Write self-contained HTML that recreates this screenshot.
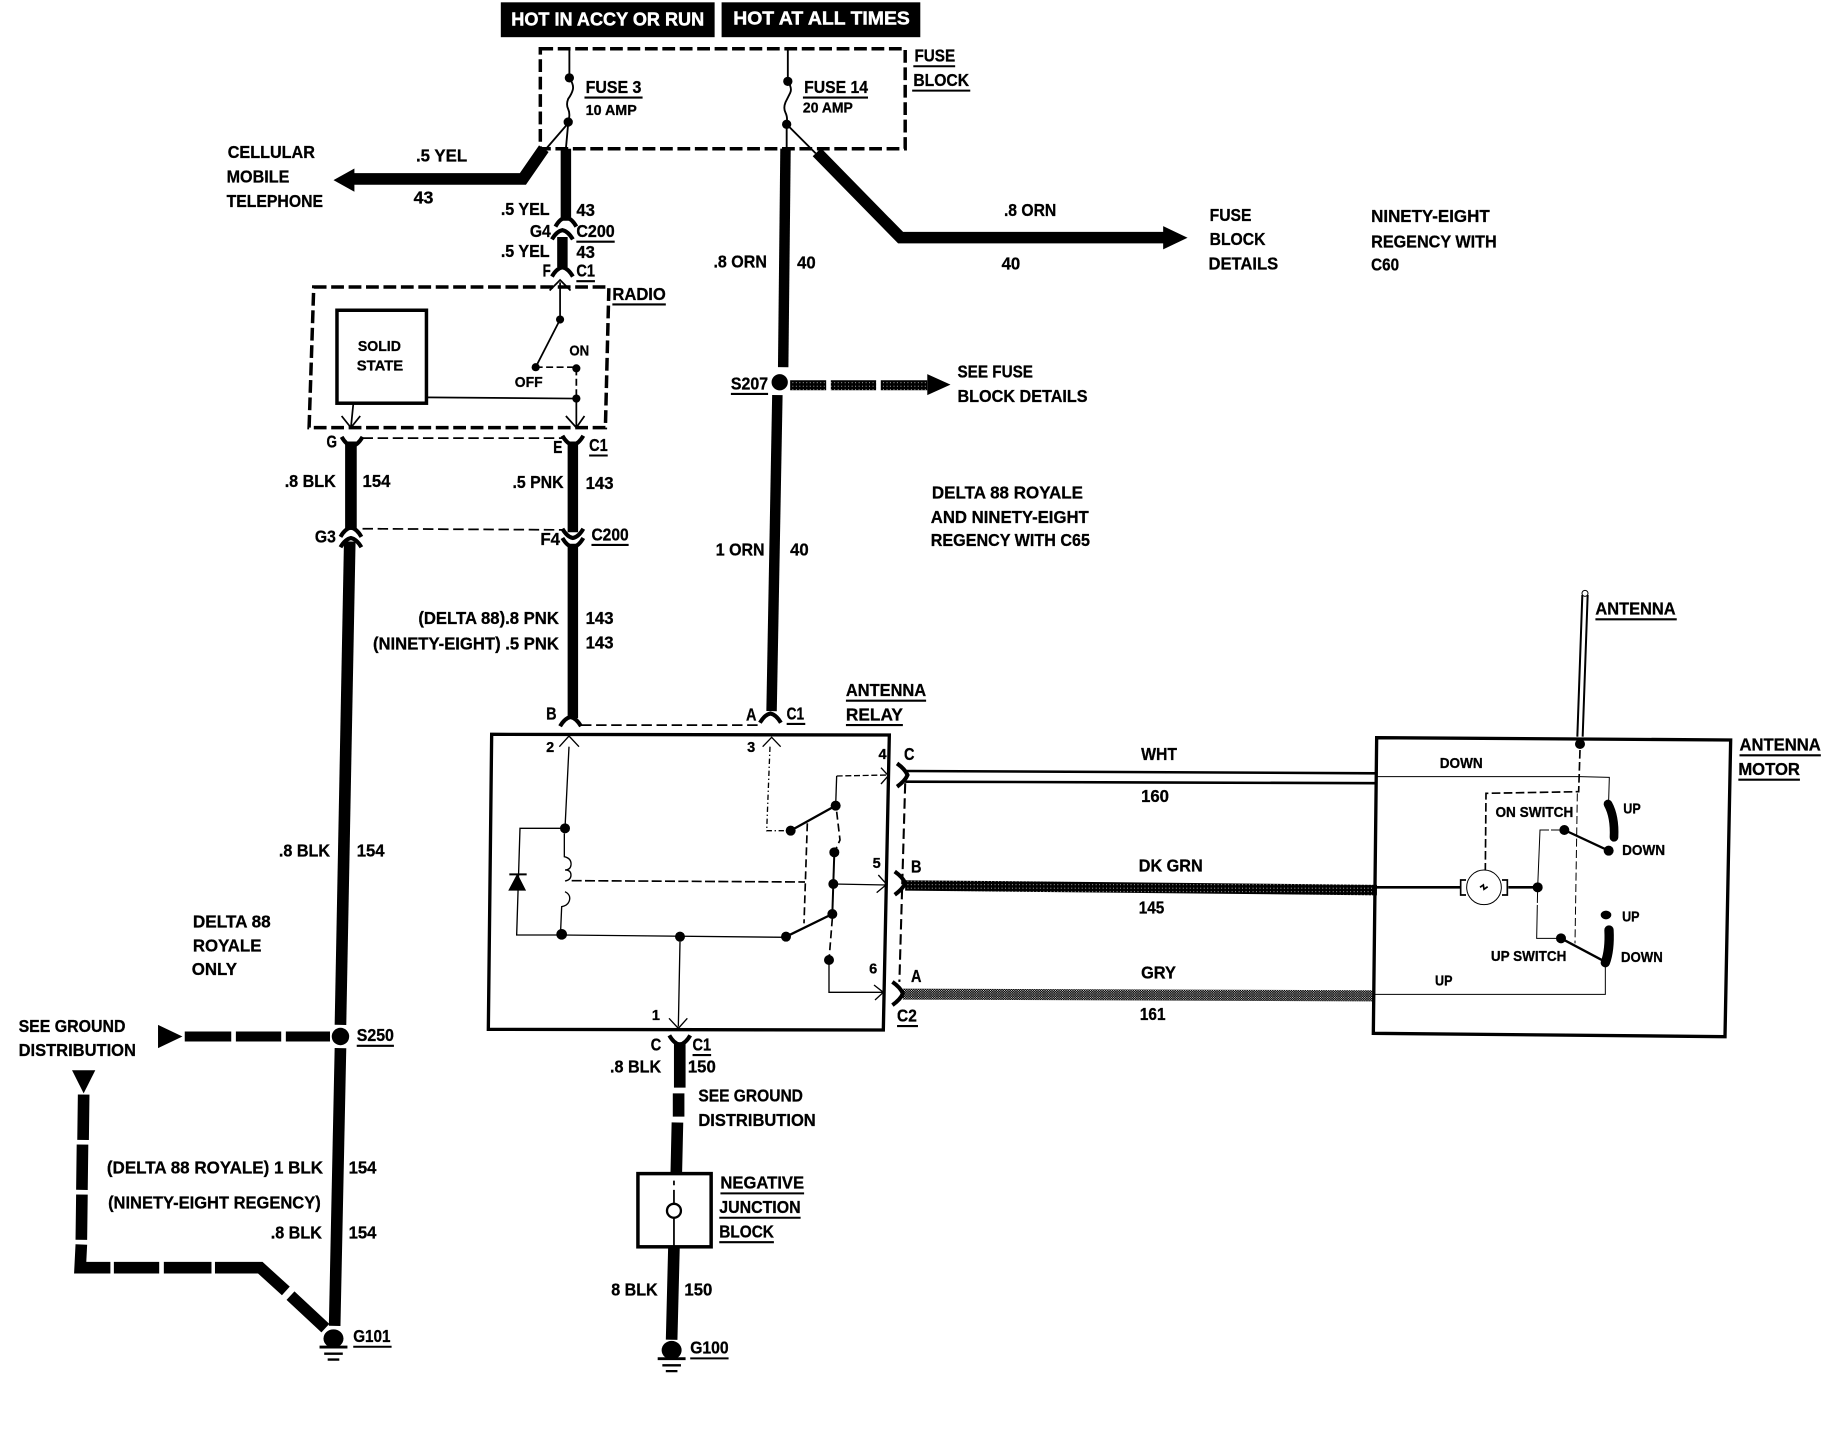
<!DOCTYPE html>
<html>
<head>
<meta charset="utf-8">
<title>Antenna wiring diagram</title>
<style>
html,body{margin:0;padding:0;background:#fff;width:1822px;height:1440px;overflow:hidden}
svg{display:block}
text{font-family:"Liberation Sans",sans-serif;font-weight:700;font-size:15px;fill:#000;stroke:#000;stroke-width:.25}
.s{font-size:12.5px}
.w{fill:#fff;stroke:#fff;stroke-width:.4;font-size:16px}
</style>
</head>
<body>
<svg xmlns="http://www.w3.org/2000/svg" width="1822" height="1440" viewBox="0 0 1822 1440">
<defs>
<path id="cd" d="M-9 7Q-5 0 0-1Q5 0 9 7" fill="none" stroke="#000" stroke-width="3.5"/>
<path id="cu" d="M-9-7Q-5 0 0 1Q5 0 9-7" fill="none" stroke="#000" stroke-width="3.5"/>
<path id="cl" d="M-7-10Q0-5 2 0Q0 5-7 10" fill="none" stroke="#000" stroke-width="3.5"/>
<g id="gnd"><ellipse rx="8.6" ry="8" fill="#000"/><path d="M-12 6h24v2.5h-24zM-8 12h16v2h-16zM-5 17h10v2h-10z" fill="#000"/></g>
<pattern id="dk" width="3" height="3" patternUnits="userSpaceOnUse"><rect width="3" height="3" fill="#000"/><rect x="1" y="2" width=".7" height=".7" fill="#fff"/></pattern>
<pattern id="gy" width="2" height="2" patternUnits="userSpaceOnUse"><rect width="2" height="2" fill="#000"/><rect width=".75" height=".75" fill="#fff"/><rect x="1" y="1" width=".75" height=".75" fill="#fff"/></pattern>
</defs>
<rect width="1822" height="1440" fill="#fff"/>
<g transform="scale(1.16199)">
<!-- header -->
<rect x="431" y="2" width="184" height="30" fill="#000"/>
<rect x="621" y="2" width="171" height="30" fill="#000"/>
<text class="w" x="440" y="22" textLength="166" lengthAdjust="spacingAndGlyphs">HOT IN ACCY OR RUN</text>
<text class="w" x="631" y="21" textLength="152" lengthAdjust="spacingAndGlyphs">HOT AT ALL TIMES</text>
<!-- fuse block -->
<rect x="465" y="42" width="314" height="86" fill="none" stroke="#000" stroke-width="3" stroke-dasharray="11 4"/>
<g fill="none" stroke="#000" stroke-width="1.6">
<path d="M490 42V67q4 6 3 10t-4 8q-2 5 0 9t0 12M489 106L470 128M489 106L487 128"/>
<path d="M678 42V70q4 6 2 10t-4 8q-2 5 0 9t1 10V128M677 107L702 132"/>
</g>
<g fill="#000"><circle cx="490" cy="67" r="4"/><circle cx="489" cy="105" r="4"/><circle cx="678" cy="70" r="4"/><circle cx="677" cy="107" r="4"/></g>
<!-- thick wires -->
<g fill="none" stroke="#000" stroke-width="9">
<path d="M468 128L450 154H300" stroke-width="10"/>
<path d="M487 128V190M484 204V230"/>
<path d="M676 128L674 316"/>
<path d="M703 131L775 204.5H1003" stroke-width="10"/>
<path d="M669 340L664 612"/>
<path d="M302 380V456" stroke-width="10"/>
<path d="M301 466L293 882" stroke-width="10"/>
<path d="M293 902L288 1141" stroke-width="10"/>
<path d="M493 380V458M493 468V618"/>
<path d="M585 897V936M584 941V961M583 966L582 1010" stroke-width="10"/>
<path d="M580 1073L578 1153" stroke-width="10"/>
<path d="M680 331.5H711M715 331.5H754M758 331.5H798" stroke="url(#dk)" stroke-width="8.6"/>
<path d="M159 892H199M203 892H242M246 892H284" stroke-width="8.6"/>
<path d="M72 942L71.5 981M71 985L70.5 1024M70.5 1028L70 1067M70 1071L69 1091H95M98 1091H137M141 1091H182M185 1091H224L246 1111M250 1115L280 1143" stroke-width="10"/>
<path d="M779 762L1185 766" stroke="url(#dk)"/>
<path d="M777 855.5L1181 857" stroke="url(#gy)" stroke-width="9.5"/>
</g>
<g fill="none" stroke="#000" stroke-width="2.2">
<path d="M779 663.5L1185 665.5M779 672.7L1185 674"/>
</g>
<!-- arrowheads -->
<g fill="#000">
<path d="M287 155L305 145V165Z"/>
<path d="M1022 204.6L1001 194.6V214.6Z"/>
<path d="M818 331L798 322V340Z"/>
<path d="M157 892L136 882V902Z"/>
<path d="M72 941L62 921H82Z"/>
<circle cx="671" cy="329" r="7"/>
<circle cx="293" cy="892" r="7.5"/>
</g>
<!-- radio -->
<path d="M270 247H524L521 368H266Z" fill="none" stroke="#000" stroke-width="3" stroke-dasharray="11 4"/>
<rect x="290" y="267" width="77" height="80" fill="#fff" stroke="#000" stroke-width="3"/>
<g fill="none" stroke="#000" stroke-width="1.5">
<path d="M473 250L482 241L491 250M482 243V275L461 316"/>
<path d="M367 342L496 343V368M487 358L496 368L503 358"/>
<path d="M304 348L302 368M294 358L302 368L310 358"/>
<path d="M461 316H496V343" stroke-dasharray="6 3"/>
<path d="M312 377H486M312 455L485 456M500 624H655" stroke-dasharray="9 4"/>
<path d="M779 674L774 845" stroke-width="1.8" stroke-dasharray="9 4"/>
</g>
<g fill="#000"><circle cx="482" cy="275" r="3.5"/><circle cx="461" cy="316" r="3.5"/><circle cx="496" cy="317" r="3.5"/><circle cx="496" cy="343" r="3.5"/></g>
<!-- connectors -->
<use href="#cd" x="487" y="188"/><use href="#cd" x="484" y="199"/><use href="#cd" x="484" y="231"/>
<use href="#cu" x="303" y="383"/><use href="#cu" x="493" y="382"/>
<use href="#cd" x="302" y="455"/><use href="#cd" x="302" y="464"/><use href="#cu" x="493" y="462"/><use href="#cu" x="493" y="470"/>
<use href="#cd" x="491" y="618"/><use href="#cd" x="663" y="615"/><use href="#cu" x="585" y="898"/>
<use href="#cl" x="779" y="667"/><use href="#cl" x="777" y="760"/><use href="#cl" x="775" y="855"/>
<!-- junction + grounds -->
<rect x="549" y="1010" width="63" height="63" fill="#fff" stroke="#000" stroke-width="3"/>
<path d="M580 1016V1020M580 1024V1036M580 1048V1073" stroke="#000" stroke-width="1.5"/>
<circle cx="580" cy="1042" r="6" fill="#fff" stroke="#000" stroke-width="2"/>
<use href="#gnd" x="287" y="1152"/><use href="#gnd" x="578" y="1162"/>
<!-- labels -->
<g>
<text x="504" y="80" textLength="48" lengthAdjust="spacingAndGlyphs">FUSE 3</text>
<text class="s" x="504" y="99" textLength="44" lengthAdjust="spacingAndGlyphs">10 AMP</text>
<text x="692" y="80" textLength="55" lengthAdjust="spacingAndGlyphs">FUSE 14</text>
<text class="s" x="691" y="97" textLength="43" lengthAdjust="spacingAndGlyphs">20 AMP</text>
<text x="787" y="53" textLength="35" lengthAdjust="spacingAndGlyphs">FUSE</text>
<text x="786" y="74" textLength="48" lengthAdjust="spacingAndGlyphs">BLOCK</text>
<text x="196" y="136" textLength="75" lengthAdjust="spacingAndGlyphs">CELLULAR</text>
<text x="195" y="157" textLength="54" lengthAdjust="spacingAndGlyphs">MOBILE</text>
<text x="195" y="178" textLength="83" lengthAdjust="spacingAndGlyphs">TELEPHONE</text>
<text x="358" y="139" textLength="44" lengthAdjust="spacingAndGlyphs">.5 YEL</text>
<text x="356" y="175" textLength="17" lengthAdjust="spacingAndGlyphs">43</text>
<text x="431" y="185" textLength="42" lengthAdjust="spacingAndGlyphs">.5 YEL</text>
<text x="496" y="186" textLength="16" lengthAdjust="spacingAndGlyphs">43</text>
<text x="456" y="204" textLength="18" lengthAdjust="spacingAndGlyphs">G4</text>
<text x="496" y="204" textLength="33" lengthAdjust="spacingAndGlyphs">C200</text>
<text x="431" y="221" textLength="42" lengthAdjust="spacingAndGlyphs">.5 YEL</text>
<text x="496" y="222" textLength="16" lengthAdjust="spacingAndGlyphs">43</text>
<text x="467" y="238" textLength="7" lengthAdjust="spacingAndGlyphs">F</text>
<text x="496" y="238" textLength="16" lengthAdjust="spacingAndGlyphs">C1</text>
<text x="527" y="258" textLength="46" lengthAdjust="spacingAndGlyphs">RADIO</text>
<text x="864" y="186" textLength="45" lengthAdjust="spacingAndGlyphs">.8 ORN</text>
<text x="862" y="232" textLength="16" lengthAdjust="spacingAndGlyphs">40</text>
<text x="1041" y="190" textLength="36" lengthAdjust="spacingAndGlyphs">FUSE</text>
<text x="1041" y="211" textLength="48" lengthAdjust="spacingAndGlyphs">BLOCK</text>
<text x="1040" y="232" textLength="60" lengthAdjust="spacingAndGlyphs">DETAILS</text>
<text x="1180" y="191" textLength="102" lengthAdjust="spacingAndGlyphs">NINETY-EIGHT</text>
<text x="1180" y="213" textLength="108" lengthAdjust="spacingAndGlyphs">REGENCY WITH</text>
<text x="1180" y="233" textLength="24" lengthAdjust="spacingAndGlyphs">C60</text>
<text x="614" y="230" textLength="46" lengthAdjust="spacingAndGlyphs">.8 ORN</text>
<text x="686" y="231" textLength="16" lengthAdjust="spacingAndGlyphs">40</text>
<text x="629" y="335" textLength="32" lengthAdjust="spacingAndGlyphs">S207</text>
<text x="824" y="325" textLength="65" lengthAdjust="spacingAndGlyphs">SEE FUSE</text>
<text x="824" y="346" textLength="112" lengthAdjust="spacingAndGlyphs">BLOCK DETAILS</text>
<text class="s" x="308" y="302" textLength="37" lengthAdjust="spacingAndGlyphs">SOLID</text>
<text class="s" x="307" y="319" textLength="40" lengthAdjust="spacingAndGlyphs">STATE</text>
<text class="s" x="490" y="306" textLength="17" lengthAdjust="spacingAndGlyphs">ON</text>
<text class="s" x="443" y="333" textLength="24" lengthAdjust="spacingAndGlyphs">OFF</text>
<text x="281" y="385" textLength="9" lengthAdjust="spacingAndGlyphs">G</text>
<text x="476" y="390" textLength="8" lengthAdjust="spacingAndGlyphs">E</text>
<text x="507" y="388" textLength="16" lengthAdjust="spacingAndGlyphs">C1</text>
<text x="245" y="419" textLength="44" lengthAdjust="spacingAndGlyphs">.8 BLK</text>
<text x="312" y="419" textLength="24" lengthAdjust="spacingAndGlyphs">154</text>
<text x="441" y="420" textLength="44" lengthAdjust="spacingAndGlyphs">.5 PNK</text>
<text x="504" y="421" textLength="24" lengthAdjust="spacingAndGlyphs">143</text>
<text x="271" y="467" textLength="18" lengthAdjust="spacingAndGlyphs">G3</text>
<text x="465" y="469" textLength="17" lengthAdjust="spacingAndGlyphs">F4</text>
<text x="509" y="465" textLength="32" lengthAdjust="spacingAndGlyphs">C200</text>
<text x="802" y="429" textLength="130" lengthAdjust="spacingAndGlyphs">DELTA 88 ROYALE</text>
<text x="801" y="450" textLength="136" lengthAdjust="spacingAndGlyphs">AND NINETY-EIGHT</text>
<text x="801" y="470" textLength="137" lengthAdjust="spacingAndGlyphs">REGENCY WITH C65</text>
<text x="616" y="478" textLength="42" lengthAdjust="spacingAndGlyphs">1 ORN</text>
<text x="680" y="478" textLength="16" lengthAdjust="spacingAndGlyphs">40</text>
<text x="360" y="537" textLength="121" lengthAdjust="spacingAndGlyphs">(DELTA 88).8 PNK</text>
<text x="504" y="537" textLength="24" lengthAdjust="spacingAndGlyphs">143</text>
<text x="321" y="559" textLength="160" lengthAdjust="spacingAndGlyphs">(NINETY-EIGHT) .5 PNK</text>
<text x="504" y="558" textLength="24" lengthAdjust="spacingAndGlyphs">143</text>
<text x="728" y="599" textLength="69" lengthAdjust="spacingAndGlyphs">ANTENNA</text>
<text x="728" y="620" textLength="49" lengthAdjust="spacingAndGlyphs">RELAY</text>
<text x="470" y="619" textLength="9" lengthAdjust="spacingAndGlyphs">B</text>
<text x="642" y="620" textLength="9" lengthAdjust="spacingAndGlyphs">A</text>
<text x="677" y="619" textLength="15" lengthAdjust="spacingAndGlyphs">C1</text>
<text x="1373" y="529" textLength="69" lengthAdjust="spacingAndGlyphs">ANTENNA</text>
<text x="1497" y="646" textLength="70" lengthAdjust="spacingAndGlyphs">ANTENNA</text>
<text x="1496" y="667" textLength="53" lengthAdjust="spacingAndGlyphs">MOTOR</text>
<text x="982" y="654" textLength="31" lengthAdjust="spacingAndGlyphs">WHT</text>
<text x="982" y="690" textLength="24" lengthAdjust="spacingAndGlyphs">160</text>
<text x="980" y="750" textLength="55" lengthAdjust="spacingAndGlyphs">DK GRN</text>
<text x="980" y="786" textLength="22" lengthAdjust="spacingAndGlyphs">145</text>
<text x="982" y="842" textLength="30" lengthAdjust="spacingAndGlyphs">GRY</text>
<text x="981" y="878" textLength="22" lengthAdjust="spacingAndGlyphs">161</text>
<text x="778" y="654" textLength="9" lengthAdjust="spacingAndGlyphs">C</text>
<text x="784" y="751" textLength="9" lengthAdjust="spacingAndGlyphs">B</text>
<text x="784" y="845" textLength="9" lengthAdjust="spacingAndGlyphs">A</text>
<text x="772" y="879" textLength="17" lengthAdjust="spacingAndGlyphs">C2</text>
<text class="s" x="470" y="647">2</text>
<text class="s" x="643" y="647">3</text>
<text class="s" x="756" y="653">4</text>
<text class="s" x="751" y="747">5</text>
<text class="s" x="748" y="838">6</text>
<text class="s" x="561" y="878">1</text>
<text x="240" y="737" textLength="44" lengthAdjust="spacingAndGlyphs">.8 BLK</text>
<text x="307" y="737" textLength="24" lengthAdjust="spacingAndGlyphs">154</text>
<text x="166" y="798" textLength="67" lengthAdjust="spacingAndGlyphs">DELTA 88</text>
<text x="166" y="819" textLength="59" lengthAdjust="spacingAndGlyphs">ROYALE</text>
<text x="165" y="839" textLength="39" lengthAdjust="spacingAndGlyphs">ONLY</text>
<text x="307" y="896" textLength="32" lengthAdjust="spacingAndGlyphs">S250</text>
<text x="16" y="888" textLength="92" lengthAdjust="spacingAndGlyphs">SEE GROUND</text>
<text x="16" y="909" textLength="101" lengthAdjust="spacingAndGlyphs">DISTRIBUTION</text>
<text x="92" y="1010" textLength="186" lengthAdjust="spacingAndGlyphs">(DELTA 88 ROYALE)  1 BLK</text>
<text x="300" y="1010" textLength="24" lengthAdjust="spacingAndGlyphs">154</text>
<text x="93" y="1040" textLength="183" lengthAdjust="spacingAndGlyphs">(NINETY-EIGHT REGENCY)</text>
<text x="233" y="1066" textLength="44" lengthAdjust="spacingAndGlyphs">.8 BLK</text>
<text x="300" y="1066" textLength="24" lengthAdjust="spacingAndGlyphs">154</text>
<text x="304" y="1155" textLength="32" lengthAdjust="spacingAndGlyphs">G101</text>
<text x="560" y="904" textLength="9" lengthAdjust="spacingAndGlyphs">C</text>
<text x="596" y="904" textLength="16" lengthAdjust="spacingAndGlyphs">C1</text>
<text x="525" y="923" textLength="44" lengthAdjust="spacingAndGlyphs">.8 BLK</text>
<text x="592" y="923" textLength="24" lengthAdjust="spacingAndGlyphs">150</text>
<text x="601" y="948" textLength="90" lengthAdjust="spacingAndGlyphs">SEE GROUND</text>
<text x="601" y="969" textLength="101" lengthAdjust="spacingAndGlyphs">DISTRIBUTION</text>
<text x="620" y="1023" textLength="72" lengthAdjust="spacingAndGlyphs">NEGATIVE</text>
<text x="619" y="1044" textLength="70" lengthAdjust="spacingAndGlyphs">JUNCTION</text>
<text x="619" y="1065" textLength="47" lengthAdjust="spacingAndGlyphs">BLOCK</text>
<text x="526" y="1115" textLength="40" lengthAdjust="spacingAndGlyphs">8 BLK</text>
<text x="589" y="1115" textLength="24" lengthAdjust="spacingAndGlyphs">150</text>
<text x="594" y="1165" textLength="33" lengthAdjust="spacingAndGlyphs">G100</text>
<text class="s" x="1239" y="661" textLength="37" lengthAdjust="spacingAndGlyphs">DOWN</text>
<text class="s" x="1287" y="703" textLength="67" lengthAdjust="spacingAndGlyphs">ON SWITCH</text>
<text class="s" x="1397" y="700" textLength="15" lengthAdjust="spacingAndGlyphs">UP</text>
<text class="s" x="1396" y="736" textLength="37" lengthAdjust="spacingAndGlyphs">DOWN</text>
<text class="s" x="1396" y="793" textLength="15" lengthAdjust="spacingAndGlyphs">UP</text>
<text class="s" x="1283" y="827" textLength="65" lengthAdjust="spacingAndGlyphs">UP SWITCH</text>
<text class="s" x="1395" y="828" textLength="36" lengthAdjust="spacingAndGlyphs">DOWN</text>
<text class="s" x="1235" y="848" textLength="15" lengthAdjust="spacingAndGlyphs">UP</text>
</g>
<!-- underlines -->
<path fill="none" stroke="#000" stroke-width="1.8" d="M503 84h50M691 84h56M786 57h36M785 78h50M496 208h33M496 242h16M527 262h46M629 339h32M507 392h16M509 469h32M728 603h69M728 624h49M677 623h16M1373 533h70M1497 650h70M1496 671h53M772 883h18M307 900h32M304 1159h33M596 908h16M620 1027h72M619 1048h70M619 1069h47M594 1169h33"/>
</g>
<!-- relay internals, crop coordinates -->
<g transform="translate(470 700) scale(.33333)" fill="none" stroke="#000" stroke-width="4">
<path d="M65 103L1258 105L1240 990L55 988Z" stroke-width="10"/>
<path d="M268 140L297 108L327 140M297 140L285 385M285 385H150L140 705H275"/>
<path d="M283 400V470q22 5 20 25q-2 15-18 15q18 0 18 15q0 15-18 18M285 575q20 10 12 30q-5 12-22 15L272 690"/>
<path d="M118 523H170" stroke-width="6"/>
<path d="M118 570H165L142 525Z" fill="#000"/>
<path d="M305 542L1005 546" stroke-width="5" stroke-dasharray="30 10"/>
<path d="M275 705L950 712M630 725L625 980M597 955L625 985L652 955"/>
<path d="M948 710L1087 642M962 392L1097 317" stroke-width="7"/>
<path d="M1087 642L1093 457" stroke-width="6"/>
<path d="M1090 552L1250 555M1225 525L1250 553L1220 578"/>
<path d="M1087 655L1077 780M1100 335L1110 420L1093 457M1012 370L1002 670" stroke-width="5" stroke-dasharray="24 12"/>
<path d="M1077 780V877H1240M1212 855L1240 877L1215 900"/>
<path d="M878 140L905 112L932 140"/>
<path d="M900 140L890 392H962" stroke-dasharray="16 8 4 8"/>
<path d="M1097 317L1100 228"/>
<path d="M1100 228L1255 225" stroke-dasharray="18 8"/>
<path d="M1233 203L1255 227L1233 252"/>
<g fill="#000" stroke="none">
<circle cx="285" cy="385" r="15"/><circle cx="275" cy="703" r="16"/><circle cx="630" cy="710" r="15"/>
<circle cx="948" cy="710" r="15"/><circle cx="1087" cy="642" r="15"/><circle cx="1090" cy="552" r="15"/>
<circle cx="1093" cy="457" r="15"/><circle cx="1097" cy="317" r="15"/><circle cx="962" cy="392" r="15"/><circle cx="1077" cy="780" r="15"/>
</g>
</g>
<!-- motor internals, crop coordinates -->
<g transform="translate(1340 580) scale(.33333)" fill="none" stroke="#000" stroke-width="3">
<path d="M110 473L1172 480L1155 1370L100 1360Z" stroke-width="10"/>
<path d="M727 45L712 470M743 45L728 470" stroke-width="6"/>
<circle cx="735" cy="40" r="9" fill="#fff"/>
<path d="M720 510L716 635L438 640L436 870" stroke-width="5" stroke-dasharray="26 10"/>
<path d="M110 590H720L808 592L806 660"/>
<path d="M804 672Q825 710 822 772" stroke-width="26" stroke-linecap="round"/>
<path d="M673 750L806 812" stroke-width="7"/>
<path d="M673 750H600L593 922L590 1075H663" stroke-dasharray="40 6 200 6"/>
<path d="M663 1075L795 1145" stroke-width="7"/>
<path d="M807 1050Q810 1110 796 1148" stroke-width="28" stroke-linecap="round"/>
<path d="M712 640L705 1090" stroke-dasharray="24 10"/>
<path d="M796 1160V1243H105"/>
<circle cx="432" cy="922" r="52"/>
<path d="M110 922H360M505 922H590" stroke-width="8"/>
<path d="M378 900H362V945H378M486 900H502V945H486" stroke-width="5"/>
<path d="M420 922L430 915L432 928L443 920" stroke-width="5"/>
<g fill="#000" stroke="none">
<circle cx="720" cy="492" r="15"/><circle cx="806" cy="812" r="15"/><circle cx="673" cy="750" r="15"/>
<circle cx="593" cy="922" r="15"/><circle cx="663" cy="1075" r="15"/>
<ellipse cx="798" cy="1005" rx="16" ry="13"/>
</g>
</g>
</svg>
</body>
</html>
